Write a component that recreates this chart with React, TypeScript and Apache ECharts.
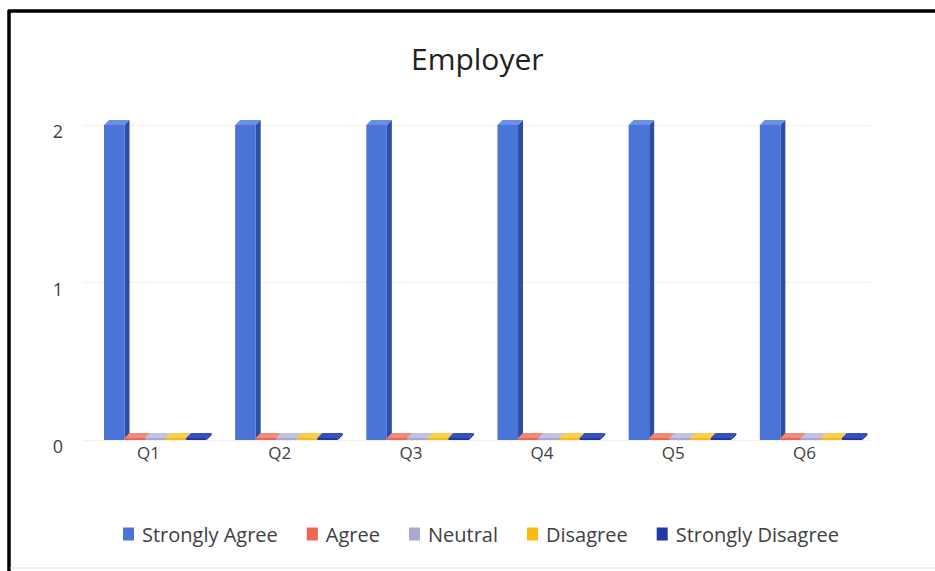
import React, { useEffect, useRef } from "react";
import * as echarts from "echarts";

const categories = ["Q1", "Q2", "Q3", "Q4", "Q5", "Q6"];
const seriesNames = ["Strongly Agree", "Agree", "Neutral", "Disagree", "Strongly Disagree"];
const stronglyAgree = [2, 2, 2, 2, 2, 2];
const agree = [0, 0, 0, 0, 0, 0];
const neutral = [0, 0, 0, 0, 0, 0];
const disagree = [0, 0, 0, 0, 0, 0];
const stronglyDisagree = [0, 0, 0, 0, 0, 0];
const yTicks = [0, 1, 2];

const seriesValues = [stronglyAgree, agree, neutral, disagree, stronglyDisagree];
const frontColors = ["#4a74d8", "#ec6653", "#aaa7d3", "#f8bb12", "#2238a6"];
const sideColors = ["#2c4ea4", "#c44a3a", "#8784b4", "#d29a08", "#16287e"];
const topColors = ["#6a8fe6", "#f28a7a", "#c4c2e2", "#fbcf4c", "#3550c0"];

const FONT = "'Open Sans', 'Noto Sans', sans-serif";

export default function App() {
  const ref = useRef<HTMLDivElement>(null);
  useEffect(() => {
    if (!ref.current) return;
    const chart = echarts.init(ref.current, null, { renderer: "svg" });
    const series = seriesNames.map((name, k) => ({
      name,
      type: "custom",
      itemStyle: { color: frontColors[k] },
      encode: { x: 0, y: 1 },
      data: seriesValues[k].map((v, i) => [i, v]),
      renderItem: (params: any, api: any) => {
        const ci = api.value(0);
        const v = api.value(1);
        const base = api.coord([ci, 0]);
        const top = api.coord([ci, v]);
        const bandW = api.size([1, 0])[0];
        const slot = bandW * 0.1565;
        const x0 = base[0] - bandW / 2 + bandW * 0.16 + k * slot;
        const w = slot;
        const d = 5;
        const yb = base[1];
        let yt = top[1];
        if (yb - yt < 2) yt = yb - 2;
        return {
          type: "group",
          children: [
            {
              type: "polygon",
              shape: { points: [[x0 + w, yt], [x0 + w + d, yt - d], [x0 + w + d, yb - d], [x0 + w, yb]] },
              style: { fill: sideColors[k] },
            },
            {
              type: "rect",
              shape: { x: x0, y: yt, width: w, height: yb - yt },
              style: { fill: frontColors[k] },
            },
            {
              type: "polygon",
              shape: { points: [[x0, yt], [x0 + d, yt - d], [x0 + w + d, yt - d], [x0 + w, yt]] },
              style: { fill: topColors[k] },
            },
          ],
        };
      },
    }));

    chart.setOption({
      animation: false,
      backgroundColor: "#ffffff",
      title: {
        text: "Employer",
        left: 406,
        top: 38,
        textStyle: { fontFamily: FONT, fontSize: 30, fontWeight: "normal", color: "#222222" },
      },
      legend: {
        data: seriesNames.map((n) => ({ name: n, icon: "rect" })),
        bottom: 22,
        left: 118,
        itemWidth: 11,
        itemHeight: 13,
        itemGap: 29,
        textStyle: { fontFamily: FONT, fontSize: 20, color: "#404040", padding: [0, 0, 0, 3] },
      },
      grid: { left: 83, right: 65, top: 125, bottom: 131, containLabel: false },
      xAxis: {
        type: "category",
        data: categories,
        axisLine: { show: false },
        axisTick: { show: false },
        axisLabel: { fontFamily: FONT, fontSize: 17, color: "#404040", margin: 4 },
      },
      yAxis: {
        type: "value",
        min: yTicks[0],
        max: yTicks[yTicks.length - 1],
        interval: 1,
        axisLine: { show: false },
        axisTick: { show: false },
        axisLabel: {
          fontFamily: FONT,
          fontSize: 18,
          color: "#404040",
          margin: 20,
          verticalAlign: "top",
          lineHeight: 12,
        },
        splitLine: { show: true, lineStyle: { color: "#f0f0f0", width: 1 } },
      },
      series,
      graphic: [
        { type: "line", shape: { x1: 8, y1: 11, x2: 935, y2: 11 }, style: { stroke: "#000", lineWidth: 3.5 } },
        { type: "line", shape: { x1: 9, y1: 10, x2: 9, y2: 571 }, style: { stroke: "#000", lineWidth: 3.5 } },
        { type: "line", shape: { x1: 10, y1: 568, x2: 935, y2: 568 }, style: { stroke: "#dddddd", lineWidth: 1 } },
      ],
    });
    return () => chart.dispose();
  }, []);
  return (
    <div
      ref={ref}
      style={{ position: "fixed", left: 0, top: 0, width: 935, height: 571, background: "#fff" }}
    />
  );
}
